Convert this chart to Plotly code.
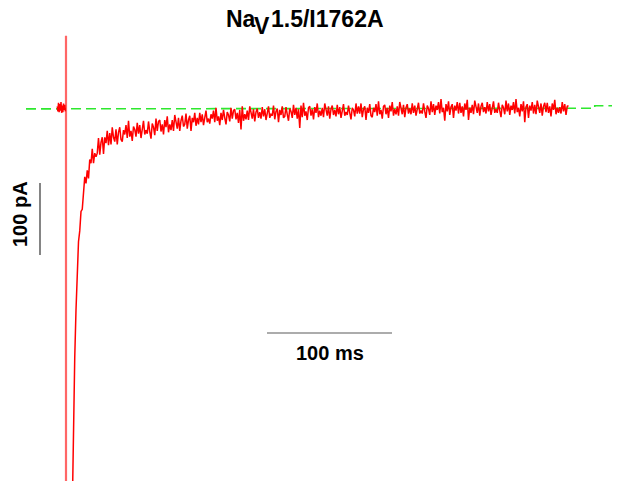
import plotly.graph_objects as go

# ---- data (time in ms, current in pA) ----
pre_t = [-7, -6.5, -6, -5.5, -5, -4.5, -4, -3.5, -3, -2.5, -2, -1.5, -1, -0.5]
pre_i = [3, -4, 8, -5, 6, -3, 9, -6, 4, -5, 7, -2, 5, -4]

trans_t = [0, 0]
trans_i = [101, -700]

trace_i = [
    -560, -430, -345, -280, -238, -185, -170, -143, -140, -115,
    -95, -104, -86, -97, -71, -76, -56, -76, -62, -67,
    -62, -41, -64, -47, -40, -63, -40, -48, -31, -51,
    -34, -50, -26, -40, -46, -29, -50, -33, -26, -43,
    -46, -30, -36, -23, -41, -17, -39, -31, -45, -25,
    -29, -39, -20, -35, -23, -41, -26, -17, -36, -30,
    -35, -18, -32, -42, -21, -26, -37, -14, -31, -18,
    -16, -32, -22, -36, -16, -26, -11, -33, -22, -30,
    -16, -31, -9, -22, -28, -13, -31, -17, -10, -25,
    -22, -7, -28, -16, -10, -31, -13, -19, -6, -24,
    -13, -22, -6, -19, -8, -23, -11, -3, -19, -14,
    -21, -8, -14, -3, -19, 1, -17, -11, -23, -6,
    -16, -2, -13, -22, -5, -9, -18, 1, -14, -3,
    -1, -15, -6, -20, -2, -29, 3, -17, -8, -15,
    -3, -16, 3, -9, -14, -1, -18, -5, 0, -13,
    -5, -14, 2, -11, -1, -16, -4, 3, -13, -8,
    -10, 4, -15, -4, 0, -19, -2, -9, 3, -13,
    -11, 2, -8, -17, 0, -4, -13, 5, -9, 1,
    -14, -1, -27, 4, -12, 8, -10, -4, -16, 1,
    3, -10, -1, -15, 2, -6, 7, -12, -3, -10,
    1, -12, 7, -5, -10, 3, -14, -1, 4, -9,
    -2, -11, 5, -8, 2, -13, -1, 6, -10, -5,
    -9, 4, -6, -15, 1, -2, -11, 7, -7, 3,
    -7, 7, -12, -1, 3, -16, 1, -6, 6, -10,
    -12, 1, -5, 6, -10, 10, -8, -2, -14, 3,
    5, -8, 1, -13, 4, -4, 9, -10, -1, -8,
    3, -10, 9, -3, -8, 5, -12, 1, 6, -7,
    0, -8, 7, -6, 4, -10, 1, 8, -7, -3,
    -7, 7, -4, -13, 4, 0, -9, 10, -5, 6,
    -9, 4, -2, 9, -7, 13, -5, 1, -17, 6,
    -4, 10, -9, 2, 6, -13, 4, -3, 9, -7,
    8, -6, 3, -11, 7, -2, 12, -16, 1, -6,
    5, -8, 11, -1, -6, 7, -10, 3, 8, -5,
    2, -7, 9, -4, 6, -9, 3, 10, -6, -1,
    -6, 8, -3, -12, 5, 1, -8, 11, -4, 7,
    -9, 4, -2, 9, -7, 13, -5, 1, -11, 6,
    -4, 10, -19, 2, 6, -13, 4, -3, 9, -7,
    5, -8, 11, -1, -6, 7, -10, 3, 8, -5,
    8, -6, 3, -11, 7, -2, 12, -8, 1, -6,
    2, -7, 9, -4, 6, -9, 3, 4,
]
trace_t = list(range(5, 5 + len(trace_i)))  # 1 ms sampling

base_t = [-32, 150, 423, 423, 441]
base_i = [-0.5, 0, 0.3, 3.9, 3.9]

scale_ms = 100
scale_pa = 100
title_parts = ["Na", "V", "1.5/I1762A"]
xbar_label = "100 ms"
ybar_label = "100 pA"

# ---- pixel helpers (page pixels -> data units); page has an 8px body margin ----
PX_PER_MS = 1.25
PX_PER_PA = 0.72
X0_PAGE = 66.0     # page x of t = 0
Y0_PAGE = 108.5    # page y of I = 0
FIG_W, FIG_H = 612, 473
OFF = 8


def px2t(px):
    return (px - X0_PAGE) / PX_PER_MS


def py2i(py):
    return (Y0_PAGE - py) / PX_PER_PA


x_range = [px2t(OFF), px2t(OFF + FIG_W)]
y_range = [py2i(OFF + FIG_H), py2i(OFF)]

# ---- figure ----
fig = go.Figure()
fig.add_trace(go.Scatter(x=base_t, y=base_i, mode="lines",
                         line=dict(color="#2ee82e", width=1.6, dash="10px,5px"),
                         hoverinfo="skip"))
fig.add_trace(go.Scatter(x=pre_t, y=pre_i, mode="lines",
                         line=dict(color="#ff0000", width=1.5), hoverinfo="skip"))
fig.add_trace(go.Scatter(x=trans_t, y=trans_i, mode="lines",
                         line=dict(color="rgba(255,0,0,0.6)", width=2.2), hoverinfo="skip"))
fig.add_trace(go.Scatter(x=trace_t, y=trace_i, mode="lines",
                         line=dict(color="#ff0000", width=1.5), hoverinfo="skip"))

# scale bars
xb0 = px2t(267)
xb_y = py2i(333)
fig.add_shape(type="line", x0=xb0, x1=xb0 + scale_ms, y0=xb_y, y1=xb_y,
              line=dict(color="#5a5a5a", width=1.2))
yb_x = px2t(40)
yb0 = py2i(183)
fig.add_shape(type="line", x0=yb_x, x1=yb_x, y0=yb0, y1=yb0 - scale_pa,
              line=dict(color="#333333", width=1.2))

lab_font = dict(family="Liberation Sans, Arial", size=20, color="black")
fig.add_annotation(x=xb0 + scale_ms / 2, y=py2i(352.5), text=f"<b>{xbar_label}</b>",
                   showarrow=False, xanchor="center", yanchor="middle", font=lab_font)
fig.add_annotation(x=px2t(20), y=py2i(214), text=f"<b>{ybar_label}</b>", textangle=-90,
                   showarrow=False, xanchor="center", yanchor="middle", font=lab_font)

title_font = dict(family="Liberation Sans, Arial", size=23, color="black")
title_pos = [(223.5, 19.4), (252.0, 26.0), (268.5, 19.4)]
for part, (px, py) in zip(title_parts, title_pos):
    fig.add_annotation(x=px2t(px), y=py2i(py), text=f"<b>{part}</b>",
                       showarrow=False, xanchor="left", yanchor="middle",
                       font=title_font)

fig.update_layout(
    width=FIG_W, height=FIG_H, autosize=False,
    margin=dict(l=0, r=0, t=0, b=0),
    paper_bgcolor="white", plot_bgcolor="white",
    showlegend=False,
    xaxis=dict(range=x_range, visible=False, fixedrange=True),
    yaxis=dict(range=y_range, visible=False, fixedrange=True),
)

fig.write_html("out.html")
